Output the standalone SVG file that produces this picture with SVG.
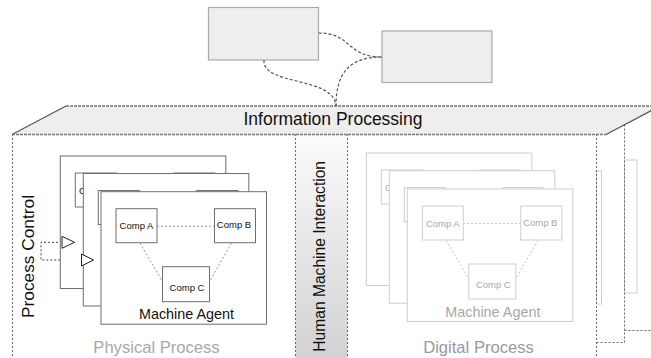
<svg xmlns="http://www.w3.org/2000/svg" width="651" height="358" viewBox="0 0 651 358">
  <defs>
    <linearGradient id="hmiFill" x1="0" y1="0" x2="0" y2="1">
      <stop offset="0" stop-color="#fbfbfb"/>
      <stop offset="1" stop-color="#d2d2d2"/>
    </linearGradient>
    <style>
      text { font-family: "Liberation Sans", Arial, sans-serif; }
      .frame { fill: none; stroke: #666; stroke-width: 1; stroke-dasharray: 2 2; }
      .box { fill: #eeeeee; stroke: #aaaaaa; stroke-width: 1.2; }
      .link { fill: none; stroke: #555; stroke-width: 1.2; stroke-dasharray: 3 2; }
      .card { fill: #fff; stroke-width: 1; }
      .comp { fill: #fff; stroke-width: 1; }
      .wire { fill: none; stroke-width: 1; stroke-dasharray: 2 2; }
      .phys .card, .phys .comp { stroke: #6e6e6e; }
      .phys .wire { stroke: #999; }
      .phys text { fill: #111; }
      .dig .card, .dig .comp { stroke: #cdcdcd; }
      .dig .wire { stroke: #c4c4c4; }
      .dig text { fill: #a8a8a8; }
      .ctext { font-size: 9.5px; text-anchor: middle; }
      .atext { font-size: 14.4px; text-anchor: middle; }
      .arrow { fill: #fff; stroke: #222; stroke-width: 1; }
      .ghost { fill: #fff; stroke: #cdcdcd; stroke-width: 1; }
    </style>
  </defs>

  <!-- layer boundaries -->
  <g id="frames">
    <rect x="295.5" y="134" width="52" height="224" fill="url(#hmiFill)"/>
    <line class="frame" x1="12.5" y1="134" x2="12.5" y2="358"/>
    <line class="frame" x1="295.5" y1="134" x2="295.5" y2="358"/>
    <line class="frame" x1="347.5" y1="134" x2="347.5" y2="358"/>
    <rect class="ghost" x="596.5" y="171" width="5" height="133"/>
    <rect class="ghost" x="624.5" y="160" width="12.5" height="133"/>
    <line class="frame" x1="596.5" y1="134" x2="596.5" y2="358"/>
    <path class="frame" d="M596.5,342.5 H624.5 V118"/>
    <line class="frame" x1="624.5" y1="330.5" x2="651" y2="330.5"/>
  </g>

  <!-- information processing plane -->
  <g id="info-processing">
    <polygon points="12,134.5 66,106 660,106 606,134.5" fill="#eeeeee"/>
    <line x1="12" y1="134.5" x2="66" y2="106" stroke="#555" stroke-width="1.2"/>
    <line x1="606" y1="134.5" x2="660" y2="106" stroke="#555" stroke-width="1.2"/>
    <line x1="66" y1="106" x2="651" y2="106" stroke="#777" stroke-width="1.6" stroke-dasharray="3 1"/>
    <line x1="12" y1="134.5" x2="606" y2="134.5" stroke="#777" stroke-width="1.6" stroke-dasharray="3 1"/>
    <text x="333" y="124.5" font-size="17.5" text-anchor="middle" fill="#111">Information Processing</text>
  </g>

  <!-- upper nodes -->
  <g id="node-top-left">
    <rect class="box" x="208.5" y="7.5" width="110" height="52.5"/>
  </g>
  <g id="node-top-right">
    <rect class="box" x="382" y="31" width="110" height="51.5"/>
  </g>

  <g id="connectors">
    <path class="link" d="M318.5,33 C352,33 346,57 382,57"/>
    <path class="link" d="M264,60 C262,86 334,76 336,106"/>
    <path class="link" d="M382,57 C350,57 336,72 336,106"/>
    <path d="M62,242.3 H41 V260 H81.5" fill="none" stroke="#444" stroke-width="1" stroke-dasharray="2 2"/>
  </g>

  <!-- physical process stack -->
  <g id="physical-process" class="phys">
    <g id="phys-agent-3" transform="translate(60.3,156)">
      <rect class="card" x="0" y="0" width="165.5" height="132.5"/>
      <line class="wire" x1="56" y1="34.5" x2="113.5" y2="34.5"/>
      <line class="wire" x1="39" y1="51.5" x2="61.5" y2="90"/>
      <line class="wire" x1="130.5" y1="51.5" x2="108.5" y2="90"/>
      <rect class="comp" x="15" y="17" width="41" height="34"/>
      <rect class="comp" x="113.5" y="17" width="41" height="34"/>
      <rect class="comp" x="61.5" y="75" width="47" height="35"/>
      <text class="ctext" x="35.5" y="37.8">Comp A</text>
    </g>
    <g id="phys-agent-2" transform="translate(83.3,173.5)">
      <rect class="card" x="0" y="0" width="165.5" height="132.5"/>
      <line class="wire" x1="56" y1="34.5" x2="113.5" y2="34.5"/>
      <line class="wire" x1="39" y1="51.5" x2="61.5" y2="90"/>
      <line class="wire" x1="130.5" y1="51.5" x2="108.5" y2="90"/>
      <rect class="comp" x="15" y="17" width="41" height="34"/>
      <rect class="comp" x="113.5" y="17" width="41" height="34"/>
      <rect class="comp" x="61.5" y="75" width="47" height="35"/>
    </g>
    <g id="phys-agent-1" transform="translate(101,191.7)">
      <rect class="card" x="0" y="0" width="165.5" height="132.5"/>
      <line class="wire" x1="56" y1="34.5" x2="113.5" y2="34.5"/>
      <line class="wire" x1="39" y1="51.5" x2="61.5" y2="90"/>
      <line class="wire" x1="130.5" y1="51.5" x2="108.5" y2="90"/>
      <rect class="comp" x="15" y="17" width="41" height="34"/>
      <rect class="comp" x="113.5" y="17" width="41" height="34"/>
      <rect class="comp" x="61.5" y="75" width="47" height="35"/>
      <text class="ctext" x="35.5" y="37.8">Comp A</text>
      <text class="ctext" x="133" y="36.8">Comp B</text>
      <text class="ctext" x="86" y="99.2">Comp C</text>
      <text class="atext" x="85.5" y="127.5">Machine Agent</text>
    </g>
    <polygon class="arrow" points="62,236.3 74.5,242.3 62,248.3"/>
    <polygon class="arrow" points="81.5,254 93.5,260 81.5,266"/>
  </g>

  <!-- digital process stack -->
  <g id="digital-process" class="dig">
    <g id="dig-agent-3" transform="translate(366.3,153)">
      <rect class="card" x="0" y="0" width="165.5" height="132.5"/>
      <line class="wire" x1="56" y1="34.5" x2="113.5" y2="34.5"/>
      <line class="wire" x1="39" y1="51.5" x2="61.5" y2="90"/>
      <line class="wire" x1="130.5" y1="51.5" x2="108.5" y2="90"/>
      <rect class="comp" x="15" y="17" width="41" height="34"/>
      <rect class="comp" x="113.5" y="17" width="41" height="34"/>
      <rect class="comp" x="61.5" y="75" width="47" height="35"/>
      <text class="ctext" x="35.5" y="37.8">Comp A</text>
    </g>
    <g id="dig-agent-2" transform="translate(389.3,170.7)">
      <rect class="card" x="0" y="0" width="165.5" height="132.5"/>
      <line class="wire" x1="56" y1="34.5" x2="113.5" y2="34.5"/>
      <line class="wire" x1="39" y1="51.5" x2="61.5" y2="90"/>
      <line class="wire" x1="130.5" y1="51.5" x2="108.5" y2="90"/>
      <rect class="comp" x="15" y="17" width="41" height="34"/>
      <rect class="comp" x="113.5" y="17" width="41" height="34"/>
      <rect class="comp" x="61.5" y="75" width="47" height="35"/>
    </g>
    <g id="dig-agent-1" transform="translate(407.3,189)">
      <rect class="card" x="0" y="0" width="165.5" height="132.5"/>
      <line class="wire" x1="56" y1="34.5" x2="113.5" y2="34.5"/>
      <line class="wire" x1="39" y1="51.5" x2="61.5" y2="90"/>
      <line class="wire" x1="130.5" y1="51.5" x2="108.5" y2="90"/>
      <rect class="comp" x="15" y="17" width="41" height="34"/>
      <rect class="comp" x="113.5" y="17" width="41" height="34"/>
      <rect class="comp" x="61.5" y="75" width="47" height="35"/>
      <text class="ctext" x="35.5" y="37.8">Comp A</text>
      <text class="ctext" x="133" y="36.8">Comp B</text>
      <text class="ctext" x="86" y="99.2">Comp C</text>
      <text class="atext" x="85.5" y="127.5">Machine Agent</text>
    </g>
  </g>

  <!-- layer titles -->
  <g id="labels">
    <text x="156.5" y="352.5" font-size="16.6" text-anchor="middle" fill="#a8a8a8">Physical Process</text>
    <text x="478.5" y="352.5" font-size="16.6" text-anchor="middle" fill="#9a9a9a">Digital Process</text>
    <text transform="translate(33.8,256.5) rotate(-90)" font-size="17.3" text-anchor="middle" fill="#111">Process Control</text>
    <text transform="translate(324.5,256.3) rotate(-90)" font-size="15.6" text-anchor="middle" fill="#111">Human Machine Interaction</text>
  </g>
</svg>
